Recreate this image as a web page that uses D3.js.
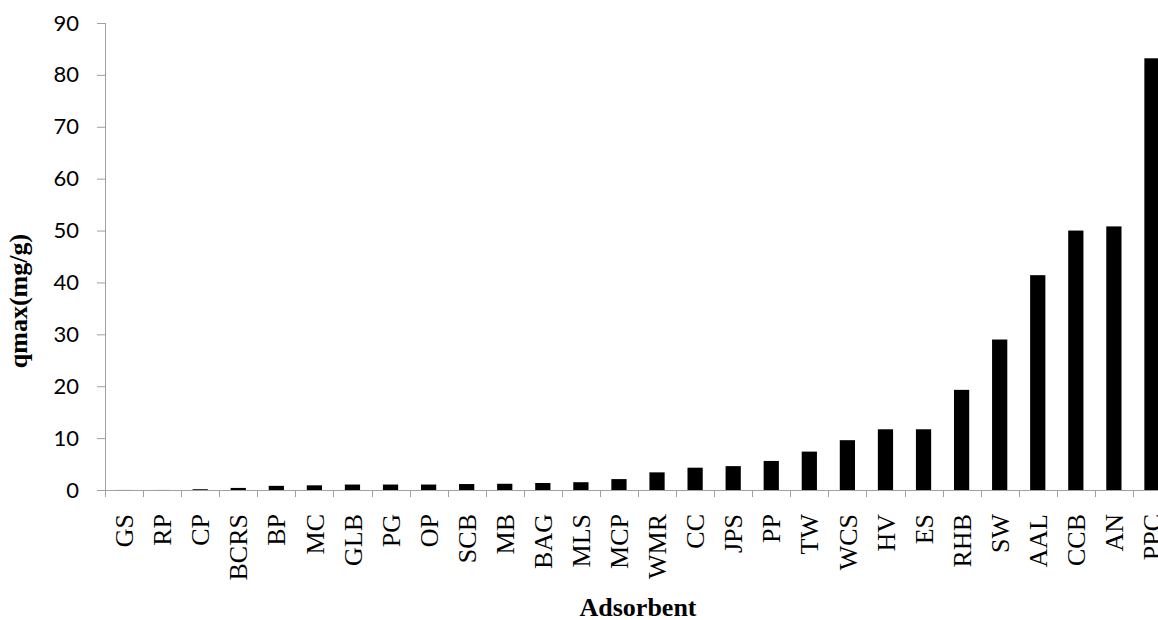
<!DOCTYPE html>
<html>
<head>
<meta charset="utf-8">
<script src="https://cdn.jsdelivr.net/npm/d3@7/dist/d3.min.js"></script>
<style>
  html, body { margin: 0; padding: 0; background: #fff; overflow: hidden; }
  svg { display: block; }
</style>
</head>
<body>
<svg id="chart" width="1158" height="620"></svg>
<script>
// Maximum adsorption capacity per adsorbent
const adsorbents = ["GS","RP","CP","BCRS","BP","MC","GLB","PG","OP","SCB","MB","BAG","MLS","MCP",
                    "WMR","CC","JPS","PP","TW","WCS","HV","ES","RHB","SW","AAL","CCB","AN","PPC"];
const qmax = [0.01, 0.01, 0.15, 0.4, 0.8, 0.9, 1.05, 1.05, 1.05, 1.15, 1.2, 1.35, 1.5, 2.1,
              3.4, 4.3, 4.6, 5.6, 7.4, 9.6, 11.7, 11.7, 19.3, 29.0, 41.4, 50.0, 50.8, 83.2];
const yTicks = [0, 10, 20, 30, 40, 50, 60, 70, 80, 90];

const svg = d3.select("#chart");
const plotLeft = 105, plotRight = 1171, plotTop = 23, plotBottom = 490;
const axisColor = "#a0a0a0";

const x = d3.scaleBand().domain(adsorbents).range([plotLeft, plotRight])
  .paddingInner(0.6).paddingOuter(0.3);
const y = d3.scaleLinear().domain([0, 90]).range([plotBottom, plotTop]);

// bars
svg.append("g").selectAll("rect").data(adsorbents).join("rect")
  .attr("x", d => x(d))
  .attr("width", x.bandwidth())
  .attr("y", (d, i) => y(qmax[i]))
  .attr("height", (d, i) => plotBottom - y(qmax[i]))
  .attr("fill", "#000");

// y axis
const yAxis = svg.append("g").attr("transform", `translate(${plotLeft},0)`)
  .call(d3.axisLeft(y).tickValues(yTicks).tickSize(8).tickPadding(18).tickFormat(d3.format("d")));
yAxis.select(".domain").attr("stroke", axisColor).attr("d", `M0.5,${plotBottom}V${plotTop}`);
yAxis.selectAll(".tick line").attr("stroke", axisColor);
yAxis.selectAll(".tick text")
  .attr("font-family", "Lato, 'Open Sans', sans-serif")
  .attr("font-size", 22).attr("fill", "#000");

// x axis: baseline with ticks on category boundaries
const xAxis = svg.append("g");
xAxis.append("line")
  .attr("x1", plotLeft).attr("x2", plotRight).attr("y1", plotBottom + 0.5).attr("y2", plotBottom + 0.5)
  .attr("stroke", axisColor);
const step = x.step();
xAxis.selectAll("line.tk").data(d3.range(adsorbents.length + 1)).join("line")
  .attr("class", "tk")
  .attr("x1", i => Math.round(plotLeft + i * step) + 0.5)
  .attr("x2", i => Math.round(plotLeft + i * step) + 0.5)
  .attr("y1", plotBottom).attr("y2", plotBottom + 7)
  .attr("stroke", axisColor);

// rotated category labels
const labelEnd = 514;
xAxis.selectAll("text").data(adsorbents).join("text")
  .attr("transform", d => `translate(${x(d) + x.bandwidth() / 2},${labelEnd}) rotate(-90)`)
  .attr("text-anchor", "end")
  .attr("dy", "0.35em")
  .attr("font-family", "'Liberation Serif', 'Times New Roman', serif")
  .attr("font-size", 26)
  .attr("fill", "#000")
  .text(d => d);

// axis titles
svg.append("text")
  .attr("transform", `translate(27,301) rotate(-90)`)
  .attr("text-anchor", "middle")
  .attr("font-family", "'Liberation Serif', 'Times New Roman', serif")
  .attr("font-weight", "bold").attr("font-size", 26)
  .text("qmax(mg/g)");

svg.append("text")
  .attr("x", (plotLeft + plotRight) / 2).attr("y", 616)
  .attr("text-anchor", "middle")
  .attr("font-family", "'Liberation Serif', 'Times New Roman', serif")
  .attr("font-weight", "bold").attr("font-size", 26)
  .text("Adsorbent");
</script>
</body>
</html>
